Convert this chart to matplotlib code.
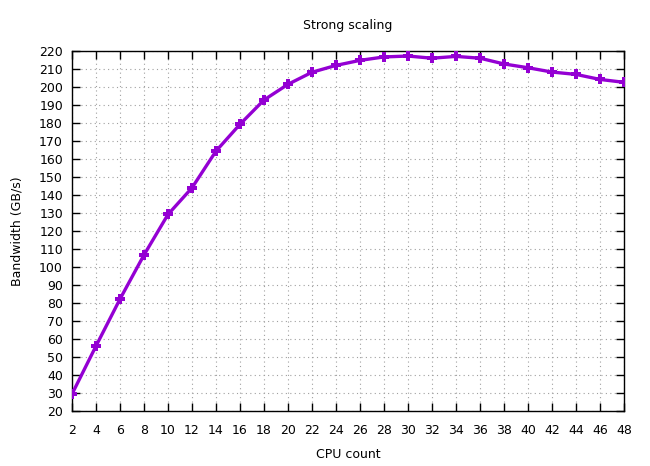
import matplotlib
matplotlib.use("Agg")
import matplotlib.pyplot as plt

cpu_count = [2, 4, 6, 8, 10, 12, 14, 16, 18, 20, 22, 24, 26, 28, 30, 32, 34, 36, 38, 40, 42, 44, 46, 48]
bandwidth = [29.4, 56.1, 82.2, 106.7, 129.2, 144.0, 164.4, 179.3, 192.8, 201.5, 208.2, 212.0, 214.8,
             216.7, 217.2, 216.0, 217.0, 216.0, 212.8, 210.7, 208.3, 207.0, 204.2, 202.6]

plt.rcParams['font.family'] = ['DejaVu Sans']
fig = plt.figure(figsize=(6.5, 4.66), dpi=100)
ax = fig.add_axes([72/650, 55/466, 552/650, 360/466])

ax.plot(cpu_count, bandwidth, color='#9400D3', linewidth=2.4, marker='P', markersize=7,
        markeredgewidth=0, zorder=3)

ax.set_xlim(2, 48)
ax.set_ylim(20, 220)
ax.set_xticks(range(2, 49, 2))
ax.set_yticks(range(20, 221, 10))
ax.grid(True, color='#a0a0a0', linestyle=(0, (1, 3)), linewidth=0.8)
ax.tick_params(direction='in', length=6, width=1, top=True, right=True, labelsize=9)
ax.tick_params(axis='x', pad=9)
ax.tick_params(axis='y', pad=6.5)
for s in ax.spines.values():
    s.set_linewidth(1)
ax.set_xlabel('CPU count', fontsize=9, labelpad=8)
ax.set_ylabel('Bandwidth (GB/s)', fontsize=9, labelpad=11)
ax.set_title('Strong scaling', fontsize=9, pad=16)

fig.savefig('out.png', dpi=100)
